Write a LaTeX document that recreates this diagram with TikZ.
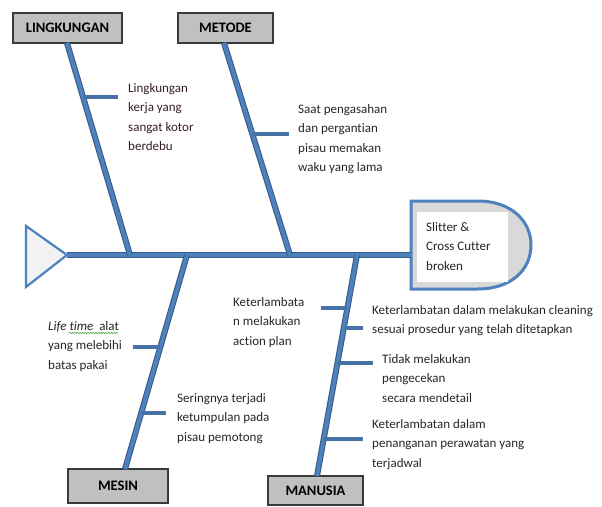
\documentclass[tikz,border=0pt]{standalone}
\usepackage{fontspec}
\setmainfont{Carlito}[Ligatures={NoCommon}]
\usetikzlibrary{calc,decorations.pathmorphing}

\definecolor{bonefill}{HTML}{4F81BD}
\definecolor{boneedge}{HTML}{385D8A}
\definecolor{twig}{HTML}{4672A6}
\definecolor{catgray}{HTML}{C0C0C0}
\definecolor{catedge}{HTML}{3A3A3A}
\definecolor{headgray}{HTML}{D9D9D9}
\definecolor{tailgray}{HTML}{F2F2F2}
\definecolor{ink}{HTML}{262626}
\definecolor{inkred}{HTML}{33201F}
\definecolor{squiggle}{HTML}{3CA03C}

\tikzset{
  catbox/.style={draw=catedge, line width=1.3pt, fill=catgray, inner sep=0pt,
    font=\fontsize{14.5}{16}\selectfont\bfseries, text=black},
  bone/.style={draw=boneedge, line width=1.1pt, double=bonefill, double distance=3.8pt},
  twigline/.style={draw=twig, line width=3.8pt},
  cause/.style={anchor=north west, align=left, inner sep=0pt, text=ink,
    font=\fontsize{13}{19.5}\selectfont},
}

\begin{document}
\begin{tikzpicture}[x=1pt, y=-1pt]
\useasboundingbox (0,0) rectangle (602,506);

% category boxes
\node[catbox, minimum width=109pt, minimum height=30pt] (lingk) at (67.5,28) {LINGKUNGAN};
\node[catbox, minimum width=95pt, minimum height=30pt] (metode) at (225.5,28) {METODE};
\node[catbox, minimum width=100pt, minimum height=34pt] (mesin) at (118,486) {MESIN};
\node[catbox, minimum width=95pt, minimum height=29pt] (manusia) at (315.5,490.5) {MANUSIA};

% tail and head
\coordinate (tailtip) at (67,255);
\draw[draw=bonefill, line width=2.2pt, fill=tailgray, line join=miter]
  (26,226) -- (tailtip) -- (26,287) -- cycle;

\draw[draw=bonefill, line width=3pt, fill=headgray]
  (411,201) -- (478,201) .. controls (511,201) and (531,221) .. (531,245)
  .. controls (531,270) and (511,289) .. (478,289) -- (411,289) -- cycle;
\fill[white] (417,212) rectangle (508,282);
\coordinate (headwest) at (411,255);
\node[cause, text=ink] (effect) at (426,222) {Slitter \&\\Cross Cutter\\broken};

% bone end points
\coordinate (lingktop) at (67,43);
\coordinate (lingkjoin) at (130,255);
\coordinate (metodetop) at (224,43);
\coordinate (metodejoin) at (290,255);
\coordinate (mesinjoin) at (187,255);
\coordinate (mesinbot) at (125,469);
\coordinate (manusiajoin) at (357,255);
\coordinate (manusiabot) at (317,476);

% spine and main bones
\draw[bone] (tailtip) -- (headwest);
\draw[bone] (lingktop) -- (lingkjoin);
\draw[bone] (metodetop) -- (metodejoin);
\draw[bone] (mesinjoin) -- (mesinbot);
\draw[bone] (manusiajoin) -- (manusiabot);

% small branches
\coordinate (l1) at ($(lingktop)!0.255!(lingkjoin)$);
\draw[twigline] (l1) -- (l1 -| 118,0);
\coordinate (m1) at ($(metodetop)!0.429!(metodejoin)$);
\draw[twigline] (m1) -- (m1 -| 289,0);
\coordinate (s1) at ($(mesinjoin)!0.43!(mesinbot)$);
\draw[twigline] (s1) -- (s1 -| 133,0);
\coordinate (s2) at ($(mesinjoin)!0.738!(mesinbot)$);
\draw[twigline] (s2) -- (s2 -| 166,0);
\coordinate (h1) at ($(manusiajoin)!0.24!(manusiabot)$);
\draw[twigline] (h1) -- (h1 -| 321,0);
\coordinate (h2) at ($(manusiajoin)!0.33!(manusiabot)$);
\draw[twigline] (h2) -- (h2 -| 363,0);
\coordinate (h3) at ($(manusiajoin)!0.489!(manusiabot)$);
\draw[twigline] (h3) -- (h3 -| 373,0);
\coordinate (h4) at ($(manusiajoin)!0.833!(manusiabot)$);
\draw[twigline] (h4) -- (h4 -| 363,0);

% cause labels
\node[cause, text=inkred] (tlingk) at (128,83) {Lingkungan\\kerja yang\\sangat kotor\\berdebu};
\node[cause] (tmetode) at (298,104) {Saat pengasahan\\dan pergantian\\pisau memakan\\waku yang lama};
\node[cause] (tmesin1) at (48,321) {\textit{Life time}\ \ alat\\yang melebihi\\batas pakai};
\draw[squiggle, line width=0.5pt, decorate,
  decoration={snake, amplitude=0.7pt, segment length=2.6pt}] (69,333) -- (118,333);
\node[cause] (tmesin2) at (177,393) {Seringnya terjadi\\ketumpulan pada\\pisau pemotong};
\node[cause] (tman1) at (233,297) {Keterlambata\\n melakukan\\action plan};
\node[cause] (tman2) at (372,305) {Keterlambatan dalam melakukan cleaning\\sesuai prosedur yang telah ditetapkan};
\node[cause] (tman3) at (382,354) {Tidak melakukan\\pengecekan\\secara mendetail};
\node[cause] (tman4) at (372,419) {Keterlambatan dalam\\penanganan perawatan yang\\terjadwal};
\end{tikzpicture}
\end{document}
